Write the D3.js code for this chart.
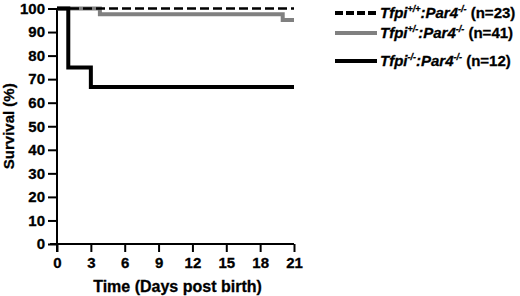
<!DOCTYPE html>
<html>
<head>
<meta charset="utf-8">
<script src="https://cdn.jsdelivr.net/npm/d3@7"></script>
<style>
  body { margin: 0; background: #fff; }
  text { font-family: "Liberation Sans", Arial, sans-serif; font-weight: bold; }
</style>
</head>
<body>
<svg id="chart"></svg>
<script>
// survival step data, [day, percent]
const wildType = [[0, 100], [21, 100]]
const hetero = [[0, 100], [3.8, 100], [3.8, 97.6], [20, 97.6], [20, 95.1], [21, 95.1]]
const knockout = [[0, 100], [1, 100], [1, 75], [3, 75], [3, 66.7], [21, 66.7]]

const xTicks = [0, 3, 6, 9, 12, 15, 18, 21]
const yTicks = [0, 10, 20, 30, 40, 50, 60, 70, 80, 90, 100]

const legendItems = [
    {sup1: '+/+', n: 23},
    {sup1: '+/-', n: 41},
    {sup1: '-/-', n: 12}
]

const width = 520, height = 296

const svg = d3.select('#chart')
    .attr('width', width)
    .attr('height', height)

const x = d3.scaleLinear().domain([0, 21]).range([57, 294])
const y = d3.scaleLinear().domain([0, 100]).range([244, 8.5])

// axes
const xAxis = svg.append('g')
    .attr('transform', `translate(0, ${y(0)})`)
    .call(d3.axisBottom(x).tickValues(xTicks).tickSize(8).tickPadding(5).tickSizeOuter(0))
const yAxis = svg.append('g')
    .attr('transform', `translate(${x(0)}, 0)`)
    .call(d3.axisLeft(y).tickValues(yTicks).tickSize(9).tickPadding(3).tickSizeOuter(0))

for (const ax of [xAxis, yAxis]) {
    ax.select('.domain').attr('stroke', '#000').attr('stroke-width', 2)
    ax.selectAll('.tick line').attr('stroke', '#000').attr('stroke-width', 2)
    ax.selectAll('.tick text')
        .attr('fill', '#000')
        .attr('stroke', '#000').attr('stroke-width', 0.3)
        .style('font-size', '15px')
        .style('font-weight', 'bold')
        .style('font-family', '"Liberation Sans", Arial, sans-serif')
}
// y axis runs a bit past the x axis, like the original
yAxis.select('.domain').attr('d', `M0,${y(100)}V${y(0) + 8}`)
xAxis.select('.domain').attr('d', `M${x(0) - 7},0H${x(21)}`)

svg.append('text')
    .attr('transform', `translate(14, ${(y(0) + y(100)) / 2}) rotate(-90)`)
    .attr('text-anchor', 'middle')
    .attr('stroke', '#000').attr('stroke-width', 0.3)
    .style('font-size', '15px')
    .text('Survival (%)')

svg.append('text')
    .attr('x', (x(0) + x(21)) / 2 + 2)
    .attr('y', 292)
    .attr('text-anchor', 'middle')
    .attr('stroke', '#000').attr('stroke-width', 0.3)
    .style('font-size', '16px')
    .text('Time (Days post birth)')

const line = d3.line().x(d => x(d[0])).y(d => y(d[1]))

svg.append('path').datum(hetero)
    .attr('d', line).attr('fill', 'none')
    .attr('stroke', '#808080').attr('stroke-width', 4)
svg.append('path').datum(knockout)
    .attr('d', line).attr('fill', 'none')
    .attr('stroke', '#000').attr('stroke-width', 4)
svg.append('path').datum(wildType)
    .attr('d', line).attr('fill', 'none')
    .attr('stroke', '#000').attr('stroke-width', 2.5)
    .attr('stroke-dasharray', '9,4')

// legend
const styles = [
    {stroke: '#000', w: 4, dash: '8,3'},
    {stroke: '#808080', w: 4, dash: null},
    {stroke: '#000', w: 4, dash: null}
]
const rowY = [13, 33, 61]

legendItems.forEach((d, i) => {
    const g = svg.append('g').attr('transform', `translate(335, ${rowY[i]})`)
    g.append('line')
        .attr('x1', 0).attr('x2', 42)
        .attr('stroke', styles[i].stroke)
        .attr('stroke-width', styles[i].w)
        .attr('stroke-dasharray', styles[i].dash)
    const t = g.append('text').attr('x', 45).attr('y', 5)
        .attr('stroke', '#000').attr('stroke-width', 0.3)
        .style('font-size', '15px')
    t.append('tspan').style('font-style', 'italic').text('Tfpi')
    t.append('tspan').style('font-style', 'italic').style('font-size', '9px')
        .attr('dy', -6).text(d.sup1)
    t.append('tspan').style('font-style', 'italic').attr('dy', 6).text(':Par4')
    t.append('tspan').style('font-style', 'italic').style('font-size', '9px')
        .attr('dy', -6).text('-/-')
    t.append('tspan').attr('dy', 6).text(` (n=${d.n})`)
})
</script>
</body>
</html>
